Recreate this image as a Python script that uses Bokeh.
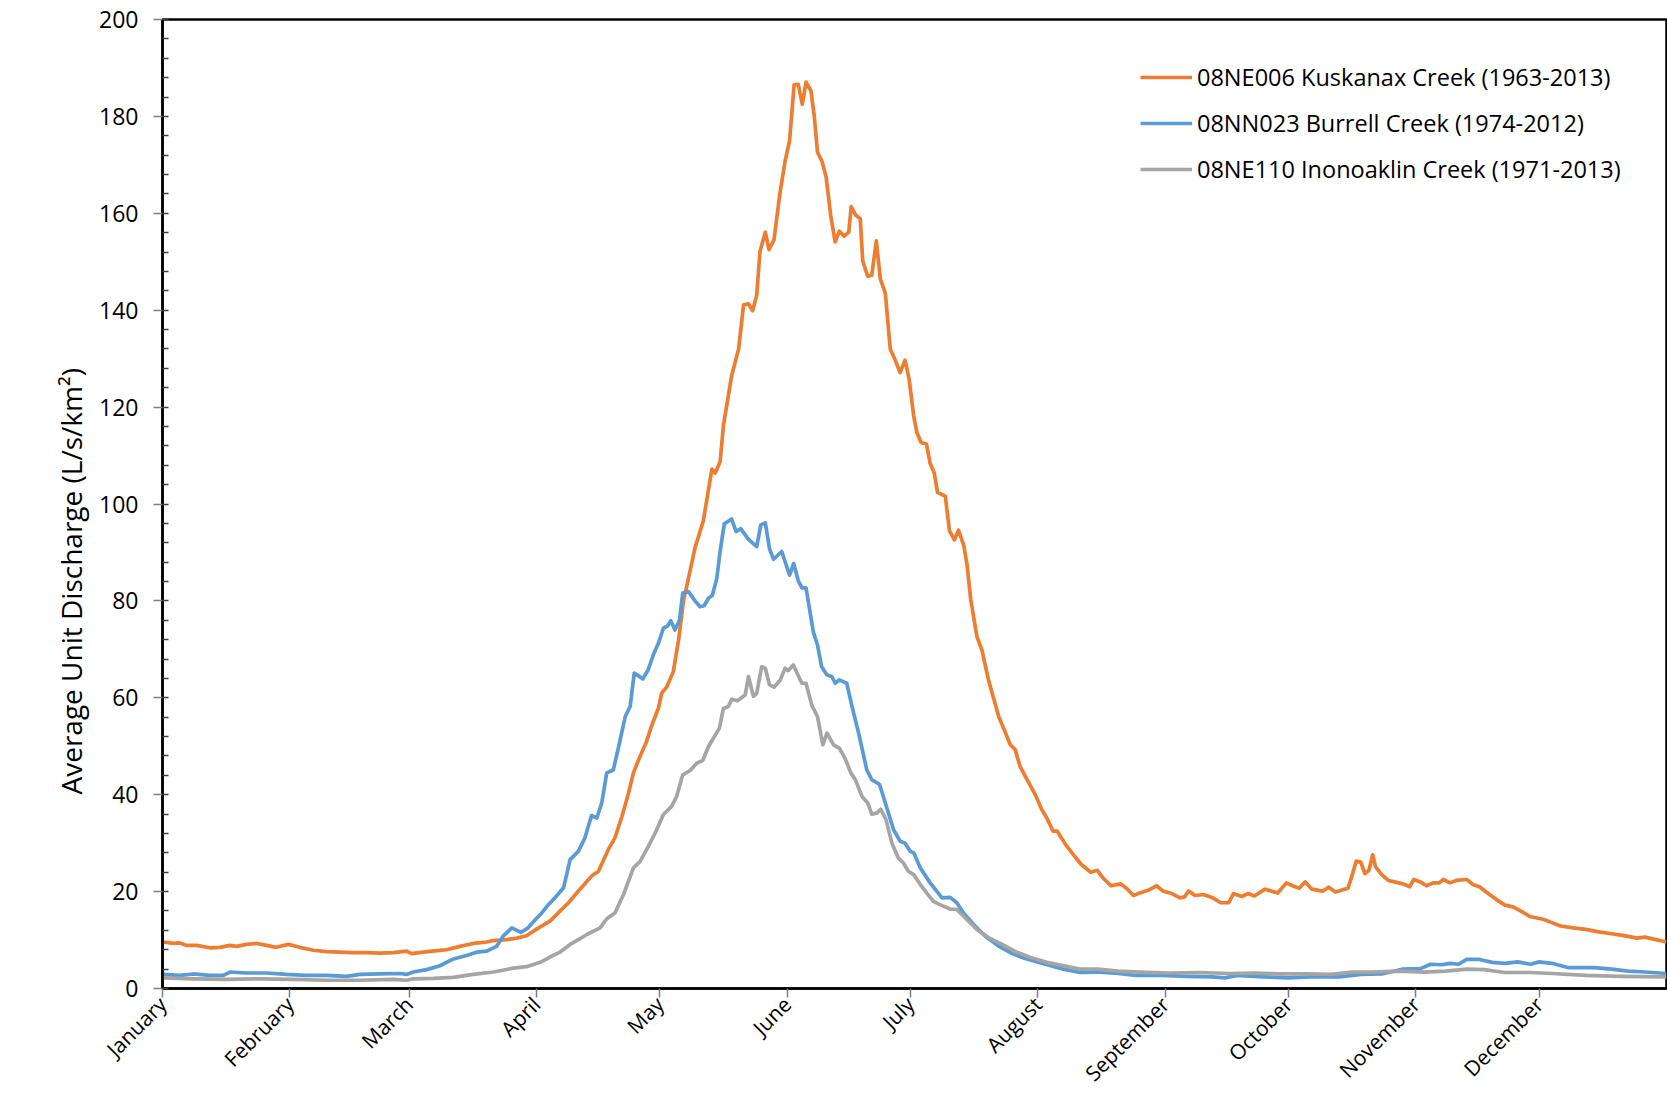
import math
from bokeh.plotting import figure
from bokeh.models import (FixedTicker, SingleIntervalTicker, Legend, LegendItem, Range1d, Title,
                          LinearAxis)
from bokeh.embed import file_html
from bokeh.resources import INLINE

# ---- data (day of year, average unit discharge L/s/km2) ----
month_names = ["January", "February", "March", "April", "May", "June", "July",
               "August", "September", "October", "November", "December"]
month_start_days = [0, 31, 60, 91, 121, 152, 182, 213, 244, 274, 305, 335]

kuskanax_day = [0.2, 2.6, 4.2, 5.8, 8.3, 11.5, 14.0, 16.4, 18.0, 20.4, 22.9, 25.3, 27.7, 30.6, 33.4, 36.7,
                39.9, 43.2, 46.4, 49.7, 52.9, 56.2, 59.4, 60.6, 63.5, 66.7, 69.1, 72.4, 75.6, 78.9, 80.5,
                83.8, 86.2, 88.6, 91.1, 94.3, 96.3, 98.8, 100.8, 104.4, 106.1, 108.5, 110.1, 111.8, 113.4,
                114.6, 116.2, 117.8, 119.1, 120.7, 121.5, 122.7, 124.3, 125.6, 126.8, 127.6, 129.6, 131.6,
                133.7, 134.5, 135.7, 136.5, 138.5, 140.2, 141.4, 142.6, 143.6, 144.6, 145.4, 146.7, 147.6,
                148.8, 150.3, 151.5, 152.6, 153.7, 154.7, 155.7, 156.6, 157.8, 158.6, 159.4, 160.5, 161.5,
                162.6, 163.7, 164.7, 165.9, 167.0, 167.6, 168.7, 169.8, 170.4, 171.6, 172.6, 173.7, 174.7,
                175.9, 177.1, 178.3, 179.5, 180.7, 181.7, 182.8, 183.6, 184.6, 185.9, 186.8, 187.8, 188.6,
                190.5, 191.5, 192.7, 193.7, 195.0, 195.8, 196.7, 198.2, 199.4, 201.0, 203.5, 204.5, 206.3,
                207.5, 208.7, 210.4, 212.4, 214.0, 215.2, 216.7, 217.7, 219.7, 221.5, 223.6, 225.9, 227.5,
                229.0, 230.8, 233.2, 234.7, 236.3, 237.8, 239.9, 241.9, 243.5, 245.6, 247.6, 248.7, 249.7,
                251.3, 253.3, 255.4, 257.5, 259.5, 260.6, 262.6, 264.2, 265.7, 268.3, 271.4, 273.5, 275.0,
                276.6, 278.1, 279.7, 282.3, 283.8, 285.4, 288.5, 289.5, 290.5, 291.6, 292.6, 293.6, 294.5,
                295.2, 296.7, 298.3, 299.8, 301.9, 303.5, 304.5, 306.1, 307.6, 309.2, 310.7, 311.7, 313.3,
                314.8, 317.4, 319.0, 320.5, 322.6, 324.7, 326.7, 328.8, 330.9, 332.9, 336.0, 338.1, 340.2,
                343.3, 346.4, 349.5, 352.6, 355.7, 358.8, 360.8, 362.9, 366.0]
kuskanax_val = [9.6, 9.3, 9.4, 8.9, 8.9, 8.4, 8.5, 8.9, 8.7, 9.1, 9.3, 8.9, 8.5, 9.1, 8.5, 7.9,
                7.6, 7.5, 7.4, 7.4, 7.3, 7.4, 7.7, 7.2, 7.5, 7.8, 8.0, 8.7, 9.3, 9.6, 9.9,
                10.1, 10.4, 10.9, 12.3, 13.9, 15.6, 17.7, 19.7, 23.2, 24.2, 28.7, 31.1, 35.5, 40.3,
                44.5, 47.9, 51.0, 54.4, 57.9, 61.0, 62.2, 65.4, 72.0, 80.2, 83.1, 91.0, 96.5,
                107.2, 106.4, 108.7, 116.2, 126.5, 132.0, 141.1, 141.3, 139.9, 143.1, 152.1, 156.1, 152.5,
                154.5, 164.4, 170.7, 175.0, 186.5, 186.6, 182.5, 187.1, 185.3, 180.1, 172.6, 170.7, 167.5,
                159.6, 154.1, 156.3, 155.3, 156.1, 161.4, 159.6, 158.9, 150.2, 147.0, 147.2, 154.3, 146.4,
                143.5, 132.0, 129.7, 127.1, 129.7, 125.7, 118.2, 114.7, 112.7, 112.4, 108.4, 106.4, 102.4,
                101.6, 94.5, 92.6, 94.6, 91.4, 87.4, 80.2, 72.6, 69.9, 63.7, 56.1, 54.1, 50.3,
                49.3, 45.8, 43.1, 40.0, 36.9, 35.2, 32.5, 32.5, 29.8, 27.8, 25.6, 24.0, 24.4,
                22.7, 21.2, 21.6, 20.6, 19.2, 19.7, 20.3, 21.2, 20.1, 19.6, 18.7, 18.9, 20.1,
                19.2, 19.4, 18.8, 17.7, 17.7, 19.6, 19.0, 19.6, 19.1, 20.5, 19.7, 21.8, 21.2,
                20.7, 22.0, 20.5, 20.1, 20.9, 19.9, 20.7, 23.4, 26.3, 26.1, 23.7, 24.4, 27.6,
                25.1, 23.5, 22.3, 22.0, 21.6, 21.0, 22.5, 22.0, 21.2, 21.8, 21.8, 22.5, 21.8,
                22.3, 22.5, 21.4, 21.0, 19.6, 18.3, 17.2, 16.8, 15.8, 14.8, 14.3, 13.6, 12.9,
                12.5, 12.2, 11.7, 11.3, 10.9, 10.4, 10.6, 10.2, 9.6]

burrell_day = [0.2, 4.2, 7.5, 11.5, 14.8, 16.4, 20.4, 25.3, 30.2, 35.0, 39.9, 44.8, 48.0, 52.9, 57.8,
               59.4, 61.0, 64.3, 67.5, 70.8, 74.0, 76.4, 78.9, 81.3, 82.9, 85.0, 87.2, 88.8, 90.7, 92.3,
               93.9, 95.5, 97.6, 99.2, 101.2, 102.8, 104.4, 105.7, 106.9, 108.1, 109.7, 111.0, 112.6,
               113.8, 114.8, 116.9, 118.2, 119.6, 120.7, 121.9, 122.9, 123.7, 124.7, 125.8, 126.6, 128.0,
               129.6, 130.8, 131.8, 132.9, 133.8, 134.9, 135.7, 136.7, 138.5, 139.6, 140.7, 142.6, 144.6,
               145.6, 146.7, 147.7, 148.7, 150.7, 152.6, 153.6, 154.7, 155.6, 156.6, 158.4, 159.4, 160.4,
               161.7, 162.9, 163.7, 164.7, 166.5, 167.8, 169.4, 171.4, 172.6, 174.5, 175.9, 177.9, 179.5,
               180.7, 182.0, 182.8, 184.4, 186.8, 189.7, 191.7, 193.3, 194.9, 197.4, 200.2, 203.4, 206.8,
               209.9, 214.0, 219.2, 223.3, 227.5, 232.6, 236.8, 243.0, 249.2, 255.4, 258.5, 261.6, 267.8,
               273.9, 279.2, 286.4, 291.6, 296.7, 301.9, 306.1, 308.6, 311.2, 313.3, 315.4, 317.4, 320.5,
               323.6, 326.7, 329.8, 332.9, 335.0, 338.1, 342.2, 348.4, 352.6, 356.7, 360.8, 366.0]
burrell_val = [2.9, 2.7, 3.0, 2.7, 2.7, 3.4, 3.2, 3.2, 2.9, 2.7, 2.7, 2.5, 2.9, 3.0, 3.1,
               2.9, 3.4, 3.9, 4.7, 6.1, 6.8, 7.5, 7.7, 8.7, 10.8, 12.5, 11.6, 12.4, 14.2, 15.6,
               17.3, 18.7, 20.8, 26.6, 28.3, 31.1, 35.7, 35.2, 38.3, 44.5, 45.1, 49.9, 56.1,
               58.2, 65.1, 63.9, 65.8, 69.2, 71.3, 74.4, 74.8, 75.9, 74.0, 76.0, 81.6, 81.9,
               80.0, 78.8, 79.0, 80.6, 81.1, 84.7, 90.2, 95.9, 96.9, 94.3, 94.9, 92.7, 91.2,
               95.7, 96.1, 90.8, 88.6, 90.2, 85.3, 87.7, 84.2, 82.7, 82.7, 73.5, 70.9, 66.4,
               64.7, 64.4, 63.0, 63.7, 63.0, 58.2, 52.7, 45.1, 43.1, 42.1, 38.3, 32.8, 30.4,
               30.0, 28.3, 28.0, 24.9, 21.8, 18.7, 18.8, 17.7, 15.6, 13.2, 10.8, 8.8, 7.2,
               6.2, 5.2, 4.0, 3.3, 3.4, 3.1, 2.7, 2.7, 2.5, 2.4, 2.2, 2.7, 2.4,
               2.2, 2.4, 2.4, 2.9, 3.0, 4.0, 4.1, 5.0, 4.9, 5.2, 5.0, 6.0, 6.0,
               5.4, 5.2, 5.5, 5.0, 5.5, 5.2, 4.3, 4.3, 4.0, 3.6, 3.4, 3.1]

inonoaklin_day = [0.2, 7.5, 15.6, 23.7, 31.8, 40.0, 48.0, 56.2, 59.4, 61.0, 65.9, 70.8, 75.6, 80.5, 85.4,
                  88.6, 91.9, 94.3, 96.7, 99.2, 101.2, 103.6, 106.5, 108.1, 110.1, 112.2, 114.6, 116.2,
                  118.2, 119.9, 121.9, 123.9, 125.1, 126.6, 128.4, 130.0, 131.5, 132.9, 134.1, 135.5, 136.5,
                  137.7, 138.5, 139.9, 141.8, 142.6, 143.8, 144.6, 145.8, 146.7, 147.7, 148.8, 150.3, 151.5,
                  152.3, 153.5, 154.8, 155.6, 156.6, 158.0, 159.4, 160.7, 161.7, 163.3, 164.7, 166.1, 167.5,
                  168.6, 170.2, 171.6, 172.6, 173.8, 174.8, 176.1, 177.5, 179.1, 180.3, 181.5, 182.8, 184.4,
                  186.0, 187.6, 189.7, 191.7, 193.3, 195.3, 198.2, 201.0, 204.3, 207.6, 211.6, 215.2, 219.3,
                  223.3, 227.5, 232.6, 237.8, 245.0, 252.3, 259.5, 265.7, 271.9, 278.1, 284.3, 289.5, 294.7,
                  300.9, 307.1, 312.3, 317.4, 321.6, 326.7, 332.9, 338.1, 346.4, 354.6, 366.0]
inonoaklin_val = [2.2, 2.0, 1.9, 2.0, 1.9, 1.7, 1.7, 1.9, 1.7, 2.0, 2.1, 2.3, 2.9, 3.4, 4.2,
                  4.5, 5.4, 6.5, 7.5, 9.1, 10.1, 11.3, 12.5, 14.4, 15.6, 19.4, 24.9, 26.2,
                  29.3, 32.1, 35.9, 37.6, 39.6, 44.1, 45.0, 46.5, 47.1, 50.0, 51.7, 53.7, 57.8,
                  58.2, 59.7, 59.4, 60.6, 64.4, 60.3, 60.9, 66.4, 66.1, 62.7, 62.2, 63.6, 66.1,
                  65.6, 66.8, 64.4, 63.0, 63.0, 58.5, 56.1, 50.3, 52.7, 50.3, 49.6, 47.5, 44.5,
                  43.1, 39.7, 38.3, 36.0, 36.2, 37.0, 34.8, 30.0, 26.9, 25.9, 24.2, 23.5, 21.5,
                  19.7, 18.0, 17.1, 16.4, 16.3, 14.6, 12.2, 10.5, 9.1, 7.6, 6.3, 5.4, 4.7,
                  4.0, 4.0, 3.6, 3.4, 3.2, 3.3, 3.1, 3.2, 3.0, 3.0, 2.9, 3.4, 3.4,
                  3.6, 3.4, 3.6, 4.0, 3.9, 3.3, 3.3, 3.1, 2.7, 2.5, 2.4]

series_labels = ["08NE006 Kuskanax Creek (1963-2013)",
                 "08NN023 Burrell Creek (1974-2012)",
                 "08NE110 Inonoaklin Creek (1971-2013)"]
series_colors = ["#ED7D31", "#5B9BD5", "#A5A5A5"]
y_title = "Average Unit Discharge (L/s/km\u00b2)"

FONT = "Open Sans"

p = figure(width=1667, height=1099, output_backend="svg", toolbar_location=None,
           x_range=Range1d(0, 366), y_range=Range1d(0, 200),
           min_border_left=162, min_border_right=1, min_border_top=19, min_border_bottom=110)
p.xgrid.visible = False
p.ygrid.visible = False
p.background_fill_color = "white"
p.border_fill_color = "white"
p.outline_line_color = "black"
p.outline_line_width = 2.5
p.outline_line_alpha = 1.0

renderers = []
for xs, ys, c in [(kuskanax_day, kuskanax_val, series_colors[0]),
                  (burrell_day, burrell_val, series_colors[1]),
                  (inonoaklin_day, inonoaklin_val, series_colors[2])]:
    renderers.append(p.line(xs, ys, line_color=c, line_width=3.7, line_join="round"))

# y axis
ya = p.yaxis[0]
ya.ticker = SingleIntervalTicker(interval=20, num_minor_ticks=5)
ya.axis_line_color = "black"
ya.axis_line_width = 2.5
ya.major_tick_in = 0
ya.major_tick_out = 9
ya.major_tick_line_color = "#7f7f7f"
ya.major_tick_line_width = 1.5
ya.minor_tick_in = 6
ya.minor_tick_out = 0
ya.minor_tick_line_color = "#404040"
ya.minor_tick_line_width = 1.5
ya.major_label_text_font = FONT
ya.major_label_text_font_size = "23px"
ya.major_label_text_color = "black"
ya.major_label_standoff = 15

# empty, invisible axis used only as a gap between the tick labels and the y title
gap_axis = LinearAxis(ticker=FixedTicker(ticks=[]), axis_line_color=None,
                      major_tick_line_color=None, minor_tick_line_color=None,
                      major_tick_in=0, major_tick_out=36, minor_tick_in=0, minor_tick_out=0)
p.add_layout(gap_axis, "left")

# y title as a side title, starting below mid-height like the reference
p.add_layout(Title(text=y_title, align="left", offset=194, standoff=10, vertical_align="top",
                   text_font=FONT, text_font_size="28px", text_font_style="normal",
                   text_color="black"), "left")

# x axis
xa = p.xaxis[0]
xa.ticker = FixedTicker(ticks=month_start_days)
xa.major_label_overrides = {d: n for d, n in zip(month_start_days, month_names)}
xa.major_label_orientation = math.pi / 4
xa.axis_line_color = "black"
xa.axis_line_width = 2.5
xa.major_tick_in = 0
xa.major_tick_out = 9
xa.major_tick_line_color = "#7f7f7f"
xa.major_tick_line_width = 1.5
xa.minor_tick_line_color = None
xa.major_label_text_font = FONT
xa.major_label_text_font_size = "21px"
xa.major_label_text_color = "black"
xa.major_label_standoff = 3

legend = Legend(items=[LegendItem(label=l, renderers=[r]) for l, r in zip(series_labels, renderers)],
                location=(978, 796), glyph_width=52, glyph_height=46, label_standoff=5,
                spacing=0, padding=0, margin=0, border_line_color=None,
                background_fill_alpha=0, label_text_font=FONT, label_text_font_size="23.5px",
                label_text_color="black")
p.add_layout(legend)

open("out.html", "w").write(file_html(p, INLINE))
